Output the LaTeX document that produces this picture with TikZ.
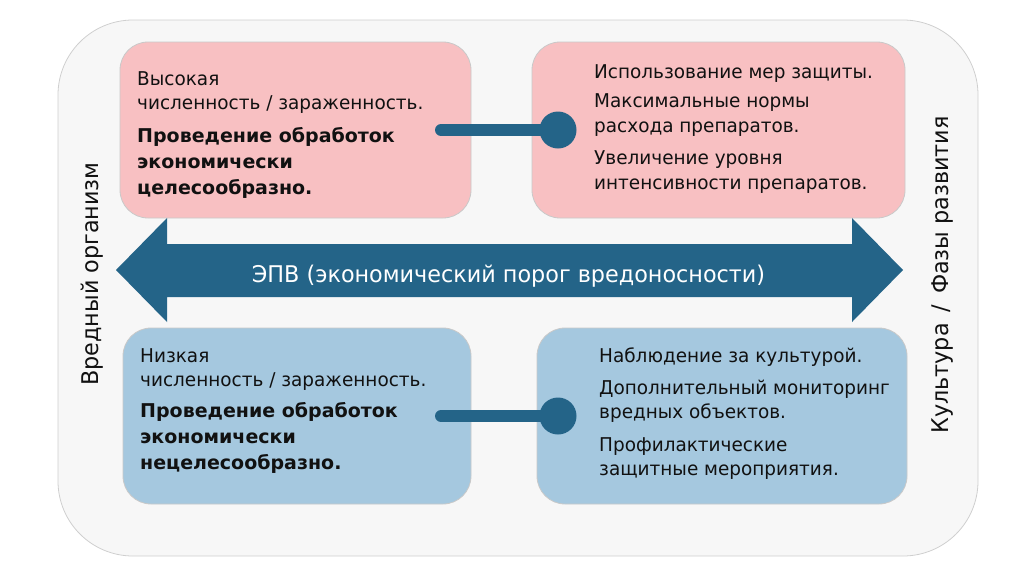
\documentclass[tikz,border=0pt]{standalone}
\usepackage{fontspec}
\setmainfont{DejaVu Sans}[FakeStretch=0.97, BoldFeatures={FakeStretch=1.0}]
\definecolor{panel}{HTML}{F7F7F7}
\definecolor{panelline}{HTML}{CFCFCF}
\definecolor{hipink}{HTML}{F8C0C2}
\definecolor{loblue}{HTML}{A5C8DF}
\definecolor{cardline}{HTML}{C9C9C9}
\definecolor{epvblue}{HTML}{246488}
\definecolor{ink}{HTML}{111111}
\begin{document}
\begin{tikzpicture}[x=1pt, y=-1pt, line join=round, line cap=round,
	card/.style={draw=cardline, line width=0.8pt, rounded corners=28pt, inner sep=0pt, minimum height=176pt},
	hicard/.style={card, fill=hipink},
	locard/.style={card, fill=loblue},
	txt/.style={anchor=north west, inner sep=0pt, align=left, text=ink, font=\fontsize{19}{24}\selectfont},
	side/.style={rotate=90, inner sep=0pt, text=ink, font=\fontsize{23}{24}\selectfont},
	dot/.style={circle, fill=epvblue, minimum size=37pt, inner sep=0pt},
	link/.style={draw=epvblue, line width=12pt}]
	\def\ya{130} \def\yb{416}
	\useasboundingbox (0,0) rectangle (1024,576);
	\draw[fill=panel, draw=panelline, line width=0.8pt, rounded corners=75pt] (58,20) rectangle (978,556);
	% cards
	\node[hicard, minimum width=351pt] (hi) at (295.5,\ya) {};
	\node[hicard, minimum width=373pt] (himeas) at (718.5,\ya) {};
	\node[locard, minimum width=348pt] (lo) at (297,\yb) {};
	\node[locard, minimum width=370pt] (lomeas) at (722,\yb) {};
	% texts
	\node[txt] (hitxt) at (137,71) {Высокая\\численность / зараженность.\\[9pt]
		\textbf{Проведение обработок}\\[2pt]\textbf{экономически}\\[2pt]\textbf{целесообразно.}};
	\node[txt] (himeastxt) at (594,64) {Использование мер защиты.\\[5pt]
		Максимальные нормы\\[1pt]расхода препаратов.\\[8pt]
		Увеличение уровня\\[1pt]интенсивности препаратов.};
	\node[txt] (lotxt) at (140,348) {Низкая\\численность / зараженность.\\[7pt]
		\textbf{Проведение обработок}\\[2pt]\textbf{экономически}\\[2pt]\textbf{нецелесообразно.}};
	\node[txt] (lomeastxt) at (599,348) {Наблюдение за культурой.\\[8pt]
		Дополнительный мониторинг\\вредных объектов.\\[9pt]
		Профилактические\\защитные мероприятия.};
	% EPV arrow
	\fill[epvblue] (116,270)--(167,218)--(167,244)--(852,244)--(852,218)--(903,270)--(852,322)--(852,297)--(167,297)--(167,322)--cycle;
	\node[text=white, font=\fontsize{23}{24}\selectfont, anchor=base] (epv) at (508.5,282) {ЭПВ (экономический порог вредоносности)};
	% side labels
	\node[side, anchor=base] (pest) at (98,274) {Вредный организм};
	\node[side, anchor=base] (crop) at (948,275) {Культура \,/\, Фазы развития};
	% links
	\node[dot] (hidot) at (558,\ya) {};
	\node[dot] (lodot) at (558,\yb) {};
	\coordinate (hiend) at (441,\ya);
	\coordinate (loend) at (441,\yb);
	\draw[link] (hiend)--(hidot.center);
	\draw[link] (loend)--(lodot.center);
\end{tikzpicture}
\end{document}
